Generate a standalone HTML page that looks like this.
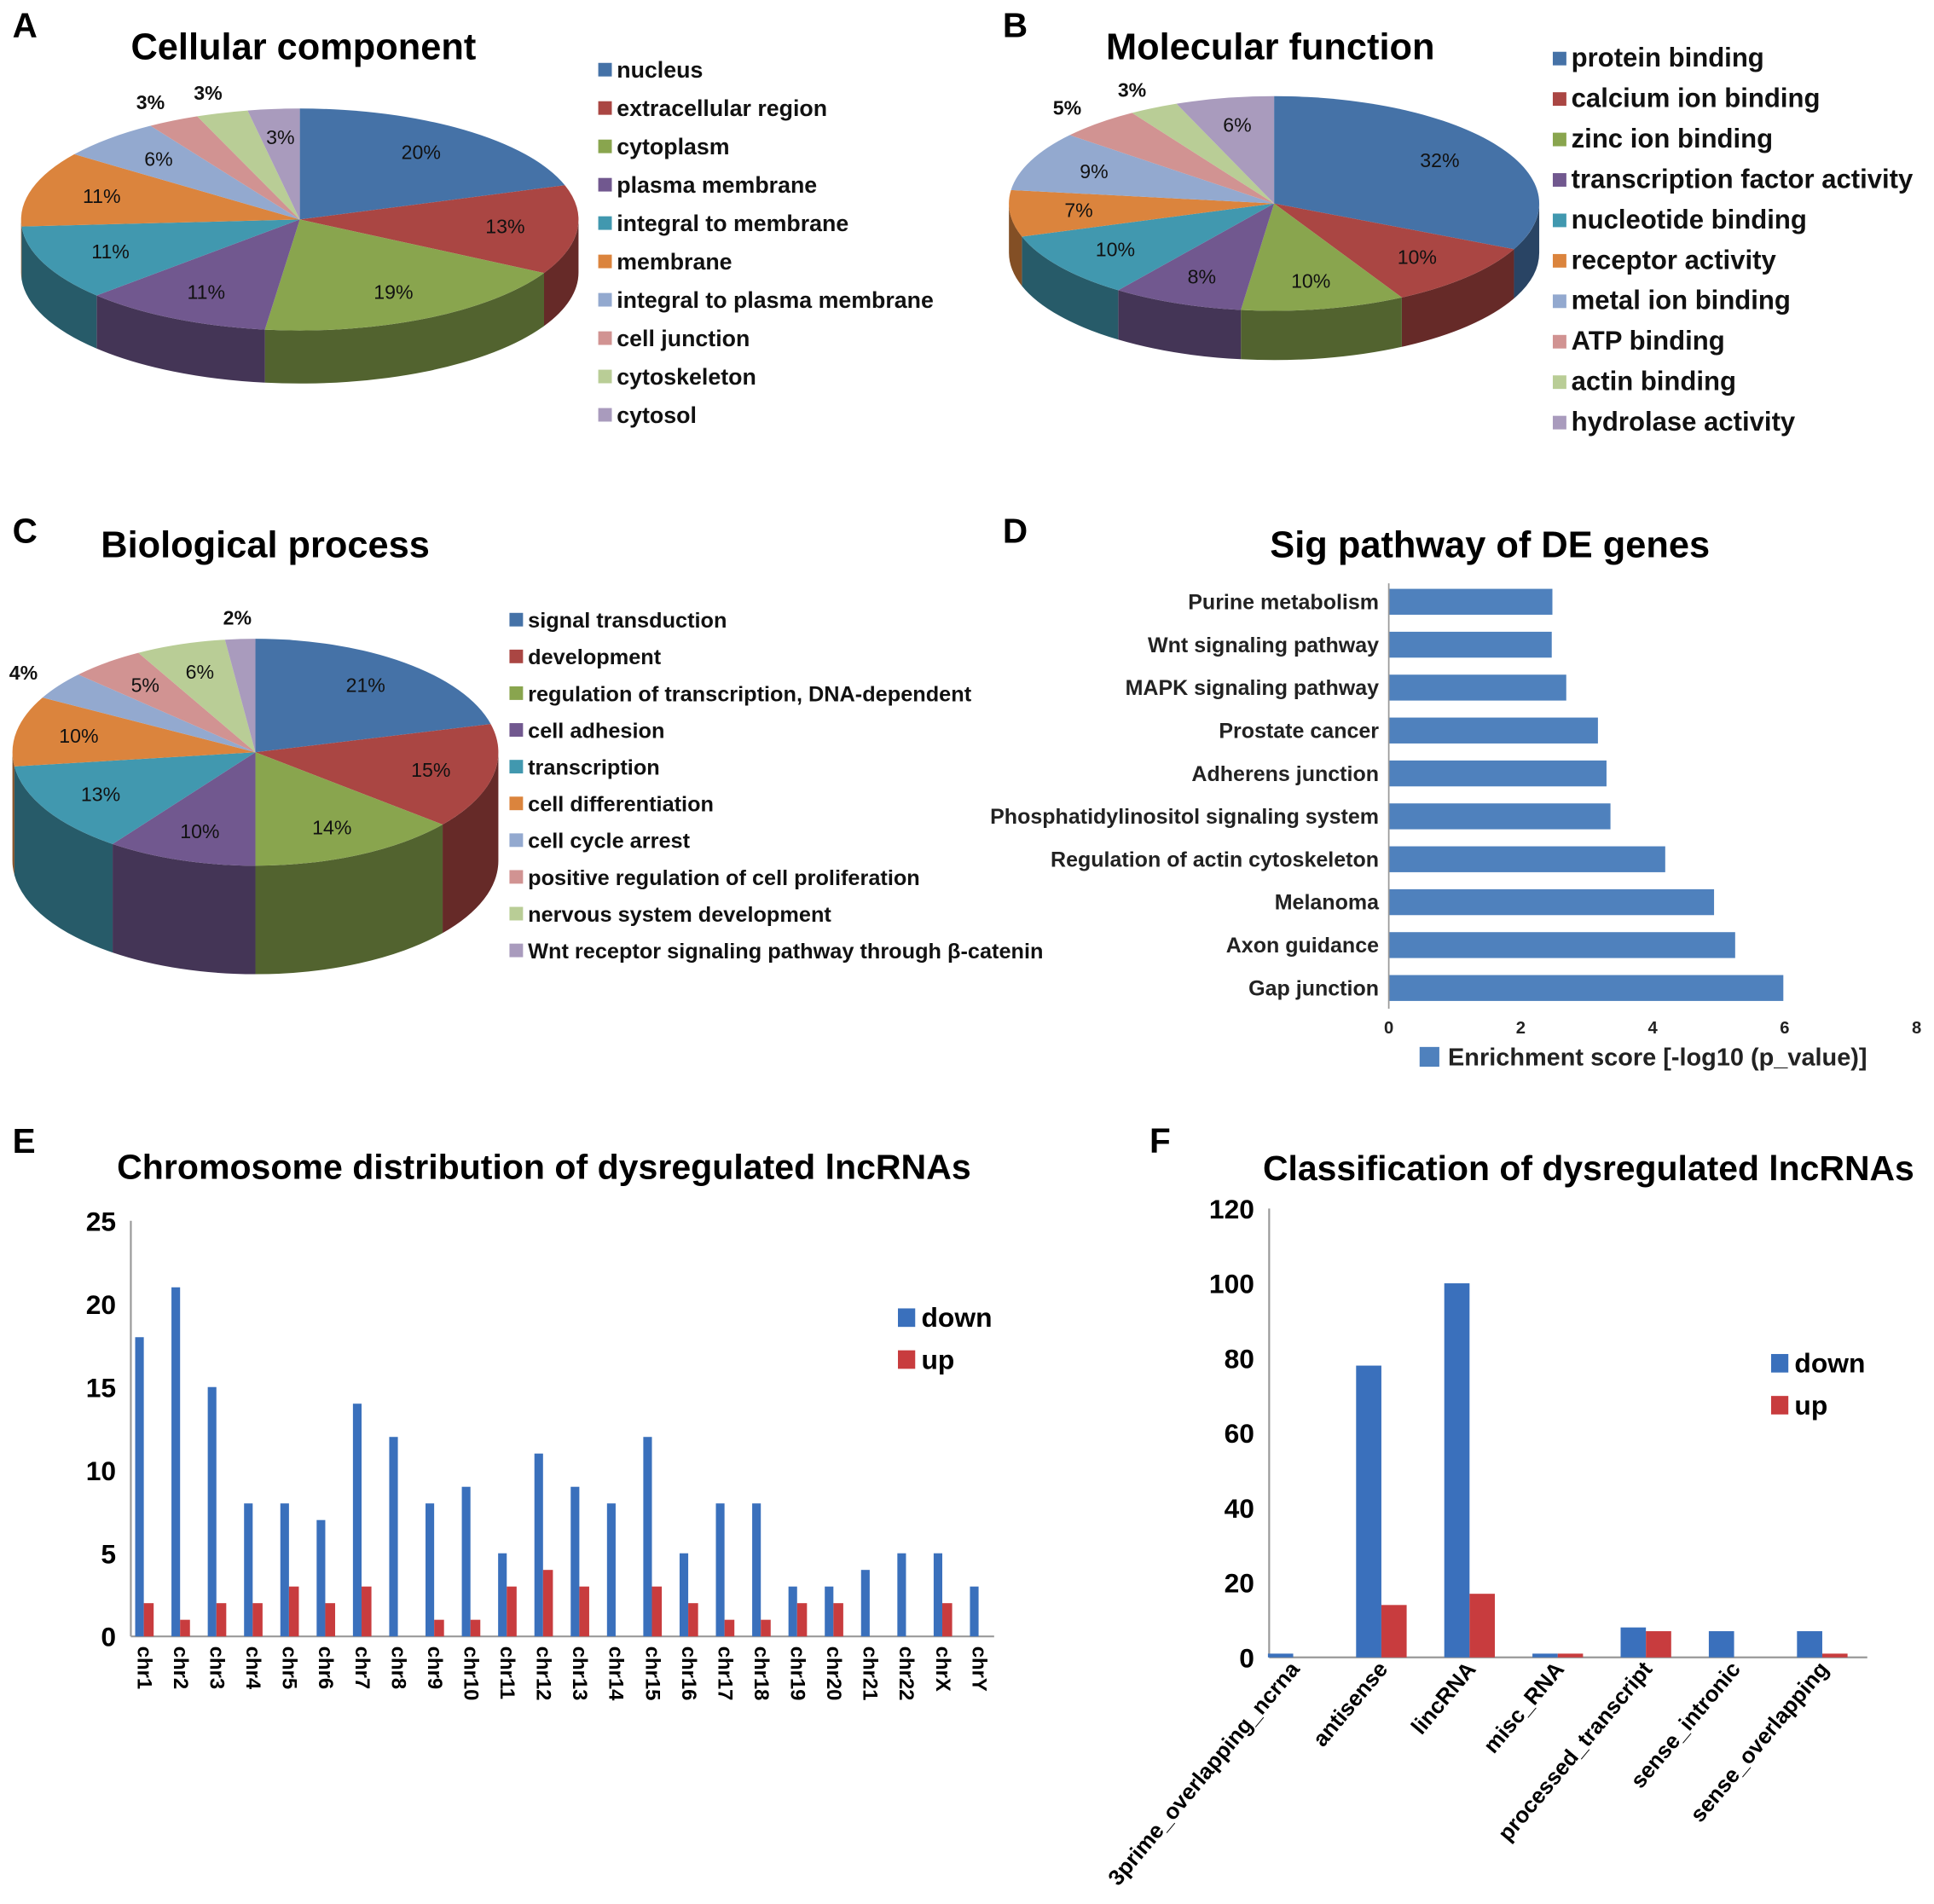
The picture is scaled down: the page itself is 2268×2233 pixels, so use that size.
<!DOCTYPE html>
<html><head><meta charset="utf-8"><style>
html,body{margin:0;padding:0;background:#fff;}
svg{display:block;font-family:"Liberation Sans",Arial,sans-serif;}
</style></head><body>
<svg id="fig" xmlns="http://www.w3.org/2000/svg" width="2268" height="2233" viewBox="0 0 1568 1544">
<rect x="0" y="0" width="1568" height="1544" fill="#fff"/>
<g font-weight="bold" font-size="28" fill="#000">
<text x="10" y="30">A</text>
<text x="813" y="30">B</text>
<text x="10" y="440">C</text>
<text x="813" y="440">D</text>
<text x="10" y="935">E</text>
<text x="932" y="935">F</text>
</g>
<g font-weight="bold" font-size="30" fill="#000" text-anchor="middle">
<text x="246" y="48">Cellular component</text>
<text x="1030" y="48">Molecular function</text>
<text x="215" y="452">Biological process</text>
<text x="1208" y="452">Sig pathway of DE genes</text>
<text x="441" y="956" font-size="28.4">Chromosome distribution of dysregulated lncRNAs</text>
<text x="1288" y="957" font-size="28.3">Classification of dysregulated lncRNAs</text>
</g>
<g id="gA"></g><g id="gB"></g><g id="gC"></g><g id="gD"></g><g id="gE"></g><g id="gF"></g>
</svg>
<script>
// ---- Pie data ----
const pieColors = ["#4572a7","#aa4643","#89a54e","#71588f","#4198af","#db843d","#93a9cf","#d19392","#b9cd96","#a99bbd"];
const ccLabels = ["nucleus","extracellular region","cytoplasm","plasma membrane","integral to membrane","membrane","integral to plasma membrane","cell junction","cytoskeleton","cytosol"];
const ccValues = [20,13,19,11,11,11,6,3,3,3];
const ccOutside = [0,0,0,0,0,0,0,1,1,0];
const mfLabels = ["protein binding","calcium ion binding","zinc ion binding","transcription factor activity","nucleotide binding","receptor activity"," metal ion binding","ATP binding","actin binding","hydrolase activity"];
const mfValues = [32,10,10,8,10,7,9,5,3,6];
const mfOutside = [0,0,0,0,0,0,0,1,1,0];
const bpLabels = ["signal transduction","development","regulation of transcription, DNA-dependent","cell adhesion","transcription","cell differentiation","cell cycle arrest","positive regulation of cell proliferation"," nervous system development","Wnt receptor signaling pathway through \u03b2-catenin"];
const bpValues = [21,15,14,10,13,10,4,5,6,2];
const bpOutside = [0,0,0,0,0,0,1,0,0,1];
// ---- Pathway data ----
const pathCats = ["Purine metabolism","Wnt signaling pathway","MAPK signaling pathway","Prostate cancer","Adherens junction","Phosphatidylinositol signaling system","Regulation of actin cytoskeleton","Melanoma","Axon guidance","Gap junction"];
const pathValues = [2.48,2.47,2.69,3.17,3.3,3.36,4.19,4.93,5.25,5.98];
const pathTicks = [0,2,4,6,8];
// ---- Chromosome data ----
const chrCats = ["chr1","chr2","chr3","chr4","chr5","chr6","chr7","chr8","chr9","chr10","chr11","chr12","chr13","chr14","chr15","chr16","chr17","chr18","chr19","chr20","chr21","chr22","chrX","chrY"];
const chrDown = [18,21,15,8,8,7,14,12,8,9,5,11,9,8,12,5,8,8,3,3,4,5,5,3];
const chrUp = [2,1,2,2,3,2,3,0,1,1,3,4,3,0,3,2,1,1,2,2,0,0,2,0];
const chrTicks = [0,5,10,15,20,25];
// ---- Classification data ----
const clsCats = ["3prime_overlapping_ncrna","antisense","lincRNA","misc_RNA","processed_transcript","sense_intronic","sense_overlapping"];
const clsDown = [1,78,100,1,8,7,7];
const clsUp = [0,14,17,1,7,0,1];
const clsTicks = [0,20,40,60,80,100,120];

const NS = "http://www.w3.org/2000/svg";
function mk(tag, attrs, parent){const e=document.createElementNS(NS,tag);for(const k in attrs)e.setAttribute(k,attrs[k]);parent.appendChild(e);return e;}
function dark(hex,f){const n=parseInt(hex.slice(1),16);const r=Math.round(((n>>16)&255)*f),g=Math.round(((n>>8)&255)*f),b=Math.round((n&255)*f);return "rgb("+r+","+g+","+b+")";}

function pie(g, name, values, labels, outside, cx, cy, rx, ry, depth, legX, legY0, legStep, legFont){
  const tot = values.reduce((a,b)=>a+b,0);
  const P=(t,dy)=>[cx+rx*Math.cos(t), cy+ry*Math.sin(t)+(dy||0)];
  let a=-Math.PI/2; const angs=[];
  values.forEach(v=>{const b=a+v/tot*2*Math.PI;angs.push([a,b]);a=b;});
  angs.forEach(([a0,a1],i)=>{
    const s=Math.max(a0,0), e=Math.min(a1,Math.PI);
    if(e<=s) return;
    const p1=P(s),p2=P(e),p3=P(e,depth),p4=P(s,depth);
    const side=mk("path",{d:`M${p1} A${rx} ${ry} 0 0 1 ${p2} L${p3} A${rx} ${ry} 0 0 0 ${p4} Z`,fill:dark(pieColors[i],0.6)},g);
    
    
  });
  angs.forEach(([a0,a1],i)=>{
    const p1=P(a0),p2=P(a1),lg=(a1-a0)>Math.PI?1:0;
    const sl=mk("path",{d:`M${cx},${cy} L${p1} A${rx} ${ry} 0 ${lg} 1 ${p2} Z`,fill:pieColors[i]},g);
    
    
    const m=(a0+a1)/2, r=outside[i]?1.18:0.74;
    const t=mk("text",{x:cx+rx*r*Math.cos(m),y:cy+ry*r*Math.sin(m)+5,"text-anchor":"middle","font-size":16,"font-weight":outside[i]?"bold":"normal",fill:"#111"},g);
    t.textContent=values[i]+"%";
    
    
    const y=legY0+i*legStep;
    const sq=mk("rect",{x:legX,y:y-6,width:11,height:11,fill:pieColors[i]},g);
    
    
    const lt=mk("text",{x:legX+15,y:y+6,"font-size":legFont,"font-weight":"bold",fill:"#111"},g);
    lt.textContent=labels[i];
    
    
  });
}
pie(document.getElementById("gA"),"cc-pie",ccValues,ccLabels,ccOutside,243,178,226,90,43,485,57,31.1,18.5);
pie(document.getElementById("gB"),"mf-pie",mfValues,mfLabels,mfOutside,1033,165,215,87,40,1259,48,32.8,21.5);
pie(document.getElementById("gC"),"bp-pie",bpValues,bpLabels,bpOutside,207,610,197,92,88,413,503,29.8,17.5);

// ---- D: horizontal bars ----
(function(){
  const g=document.getElementById("gD");
  const x0=1126, xu=53.5, y0=488, step=34.8, bh=21;
  const X=v=>x0+v*xu, Y=i=>y0+i*step;
  pathCats.forEach((c,i)=>{
    const b=mk("rect",{x:X(0),y:Y(i)-bh/2,width:X(pathValues[i])-X(0),height:bh,fill:"#4f81bd"},g);
    
    
    const t=mk("text",{x:x0-8,y:Y(i)+6,"text-anchor":"end","font-size":17.3,"font-weight":"bold",fill:"#222"},g);
    t.textContent=c;
    
    
  });
  const ax=mk("line",{x1:x0,y1:473,x2:x0,y2:818,stroke:"#999","stroke-width":1.2},g);
  
  
  pathTicks.forEach(v=>{
    const t=mk("text",{x:X(v),y:838,"text-anchor":"middle","font-size":14,"font-weight":"bold",fill:"#222"},g);
    t.textContent=v;
    
    
  });
  const sq=mk("rect",{x:1151,y:849,width:16,height:16,fill:"#4f81bd"},g);
  
  
  const lt=mk("text",{x:1174,y:864,"font-size":20,"font-weight":"bold",fill:"#222"},g);
  lt.textContent="Enrichment score [-log10 (p_value)]";
  
  
})();

// ---- grouped bars helper ----
function grouped(g,name,cats,down,up,ticks,o){
  const Y=v=>o.y0-(v-ticks[0])/(ticks[ticks.length-1]-ticks[0])*(o.y0-o.yTop);
  const ay=mk("line",{x1:o.ax,y1:o.yTop,x2:o.ax,y2:o.y0,stroke:"#999","stroke-width":1.5},g);
  
  
  const axx=mk("line",{x1:o.ax,y1:o.y0,x2:o.axEnd,y2:o.y0,stroke:"#999","stroke-width":1.5},g);
  
  
  ticks.forEach(v=>{
    const t=mk("text",{x:o.ax-12,y:Y(v)+8,"text-anchor":"end","font-size":22,"font-weight":"bold",fill:"#000"},g);
    t.textContent=v;
    
    
  });
  cats.forEach((c,i)=>{
    const cx=o.c0+i*o.pitch;
    const bd=mk("rect",{x:cx-o.bw,y:Y(down[i]),width:o.bw,height:o.y0-Y(down[i]),fill:"#3a70bc"},g);
    
    
    if(up[i]>0){
      const bu=mk("rect",{x:cx,y:Y(up[i]),width:o.bw2,height:o.y0-Y(up[i]),fill:"#c83c3e"},g);
      
      
    }
    const lx=cx+o.lblDx, ly=o.y0+o.lblDy;
    const t=mk("text",{x:lx,y:ly,"font-size":o.lblFont,"font-weight":"bold",fill:"#000","text-anchor":o.lblAnchor,transform:`rotate(${o.lblRot} ${lx} ${ly})`},g);
    t.textContent=c;
    
    
  });
  const s1=mk("rect",{x:o.legX,y:o.legY-7,width:14,height:15,fill:"#3a70bc"},g);
  
  
  const t1=mk("text",{x:o.legX+19,y:o.legY+8,"font-size":22,"font-weight":"bold",fill:"#000"},g);
  t1.textContent="down";
  
  
  const s2=mk("rect",{x:o.legX,y:o.legY+27,width:14,height:15,fill:"#c83c3e"},g);
  
  
  const t2=mk("text",{x:o.legX+19,y:o.legY+42,"font-size":22,"font-weight":"bold",fill:"#000"},g);
  t2.textContent="up";
  
  
}
grouped(document.getElementById("gE"),"chrom",chrCats,chrDown,chrUp,chrTicks,
  {ax:106,axEnd:806,y0:1327,yTop:990,c0:116.5,pitch:29.43,bw:7,bw2:8,lblDx:-5,lblDy:8,lblFont:16.5,lblAnchor:"start",lblRot:90,legX:728,legY:1068});
grouped(document.getElementById("gF"),"cls",clsCats,clsDown,clsUp,clsTicks,
  {ax:1029,axEnd:1514,y0:1344,yTop:980,c0:1048.5,pitch:71.5,bw:20.5,bw2:20.5,lblDx:6,lblDy:10,lblFont:18,lblAnchor:"end",lblRot:-50,legX:1436,legY:1105});
</script>
</body></html>
